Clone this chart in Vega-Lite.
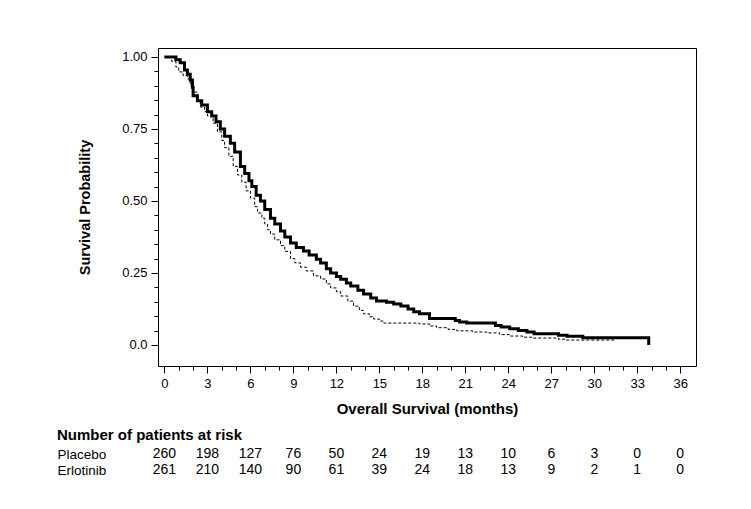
{
  "$schema": "https://vega.github.io/schema/vega-lite/v6.json",
  "padding": {"left": 57, "top": 47, "right": 5, "bottom": 5},
  "background": "white",
  "config": {
    "font": "Liberation Sans",
    "axis": {"grid": false, "domain": false, "tickColor": "black", "labelColor": "black", "titleColor": "black", "labelFont": "Liberation Sans", "titleFont": "Liberation Sans"},
    "concat": {"spacing": 11}
  },
  "datasets": {
    "erlotinib": [
      {"t": 0, "s": 1}, {"t": 0.6, "s": 1}, {"t": 0.8, "s": 0.99}, {"t": 1.1, "s": 0.98}, {"t": 1.4, "s": 0.955},
      {"t": 1.6, "s": 0.94}, {"t": 1.8, "s": 0.92}, {"t": 1.95, "s": 0.895}, {"t": 2.0, "s": 0.865}, {"t": 2.3, "s": 0.848},
      {"t": 2.6, "s": 0.833}, {"t": 3.0, "s": 0.81}, {"t": 3.3, "s": 0.795}, {"t": 3.6, "s": 0.775}, {"t": 3.9, "s": 0.75},
      {"t": 4.2, "s": 0.725}, {"t": 4.6, "s": 0.7}, {"t": 4.9, "s": 0.67}, {"t": 5.3, "s": 0.62}, {"t": 5.6, "s": 0.595},
      {"t": 5.9, "s": 0.57}, {"t": 6.1, "s": 0.55}, {"t": 6.4, "s": 0.52}, {"t": 6.7, "s": 0.5}, {"t": 7.0, "s": 0.47},
      {"t": 7.4, "s": 0.44}, {"t": 7.7, "s": 0.42}, {"t": 8.1, "s": 0.396}, {"t": 8.4, "s": 0.375}, {"t": 8.8, "s": 0.354},
      {"t": 9.2, "s": 0.338}, {"t": 9.7, "s": 0.326}, {"t": 10.1, "s": 0.312}, {"t": 10.6, "s": 0.298}, {"t": 10.9, "s": 0.285},
      {"t": 11.3, "s": 0.265}, {"t": 11.6, "s": 0.25}, {"t": 12.0, "s": 0.238}, {"t": 12.3, "s": 0.228}, {"t": 12.7, "s": 0.215},
      {"t": 13.0, "s": 0.205}, {"t": 13.5, "s": 0.19}, {"t": 13.9, "s": 0.177}, {"t": 14.4, "s": 0.163}, {"t": 14.8, "s": 0.153},
      {"t": 15.5, "s": 0.148}, {"t": 16.0, "s": 0.142}, {"t": 16.5, "s": 0.135}, {"t": 17.0, "s": 0.125}, {"t": 17.4, "s": 0.115},
      {"t": 17.8, "s": 0.108}, {"t": 18.5, "s": 0.092}, {"t": 20.3, "s": 0.085}, {"t": 20.6, "s": 0.08}, {"t": 21.1, "s": 0.076},
      {"t": 23.1, "s": 0.068}, {"t": 23.5, "s": 0.062}, {"t": 24.1, "s": 0.056}, {"t": 24.7, "s": 0.05}, {"t": 25.3, "s": 0.045},
      {"t": 25.8, "s": 0.039}, {"t": 27.5, "s": 0.034}, {"t": 28.1, "s": 0.03}, {"t": 29.2, "s": 0.025}, {"t": 33.8, "s": 0.0}
    ],
    "placebo": [
      {"t": 0, "s": 1}, {"t": 0.4, "s": 1}, {"t": 0.5, "s": 0.985}, {"t": 0.8, "s": 0.965}, {"t": 1.0, "s": 0.948},
      {"t": 1.3, "s": 0.935}, {"t": 1.6, "s": 0.924}, {"t": 1.8, "s": 0.9}, {"t": 2.0, "s": 0.878}, {"t": 2.3, "s": 0.85},
      {"t": 2.5, "s": 0.826}, {"t": 2.8, "s": 0.81}, {"t": 3.0, "s": 0.795}, {"t": 3.4, "s": 0.77}, {"t": 3.7, "s": 0.74},
      {"t": 4.0, "s": 0.71}, {"t": 4.2, "s": 0.685}, {"t": 4.5, "s": 0.655}, {"t": 4.8, "s": 0.62}, {"t": 5.1, "s": 0.59},
      {"t": 5.4, "s": 0.565}, {"t": 5.7, "s": 0.535}, {"t": 6.0, "s": 0.51}, {"t": 6.3, "s": 0.48}, {"t": 6.5, "s": 0.458},
      {"t": 6.8, "s": 0.44}, {"t": 7.0, "s": 0.42}, {"t": 7.2, "s": 0.4}, {"t": 7.4, "s": 0.385}, {"t": 7.7, "s": 0.365},
      {"t": 8.1, "s": 0.345}, {"t": 8.4, "s": 0.325}, {"t": 8.8, "s": 0.3}, {"t": 9.1, "s": 0.285}, {"t": 9.5, "s": 0.27},
      {"t": 9.9, "s": 0.257}, {"t": 10.4, "s": 0.24}, {"t": 10.9, "s": 0.229}, {"t": 11.3, "s": 0.212}, {"t": 11.6, "s": 0.198},
      {"t": 12.0, "s": 0.185}, {"t": 12.3, "s": 0.17}, {"t": 12.8, "s": 0.152}, {"t": 13.2, "s": 0.135}, {"t": 13.6, "s": 0.12},
      {"t": 13.9, "s": 0.108}, {"t": 14.3, "s": 0.098}, {"t": 14.6, "s": 0.09}, {"t": 15.0, "s": 0.083}, {"t": 15.3, "s": 0.076},
      {"t": 17.8, "s": 0.073}, {"t": 18.5, "s": 0.066}, {"t": 19.0, "s": 0.06}, {"t": 19.8, "s": 0.054}, {"t": 20.4, "s": 0.049},
      {"t": 21.5, "s": 0.045}, {"t": 22.5, "s": 0.042}, {"t": 23.4, "s": 0.036}, {"t": 24.1, "s": 0.031}, {"t": 25.0, "s": 0.027},
      {"t": 25.7, "s": 0.024}, {"t": 27.5, "s": 0.02}, {"t": 28.0, "s": 0.017}, {"t": 31.5, "s": 0.017}
    ],
    "risk": [
      {"group": "Placebo", "t": 0, "n": 260}, {"group": "Placebo", "t": 3, "n": 198}, {"group": "Placebo", "t": 6, "n": 127},
      {"group": "Placebo", "t": 9, "n": 76}, {"group": "Placebo", "t": 12, "n": 50}, {"group": "Placebo", "t": 15, "n": 24},
      {"group": "Placebo", "t": 18, "n": 19}, {"group": "Placebo", "t": 21, "n": 13}, {"group": "Placebo", "t": 24, "n": 10},
      {"group": "Placebo", "t": 27, "n": 6}, {"group": "Placebo", "t": 30, "n": 3}, {"group": "Placebo", "t": 33, "n": 0},
      {"group": "Placebo", "t": 36, "n": 0},
      {"group": "Erlotinib", "t": 0, "n": 261}, {"group": "Erlotinib", "t": 3, "n": 210}, {"group": "Erlotinib", "t": 6, "n": 140},
      {"group": "Erlotinib", "t": 9, "n": 90}, {"group": "Erlotinib", "t": 12, "n": 61}, {"group": "Erlotinib", "t": 15, "n": 39},
      {"group": "Erlotinib", "t": 18, "n": 24}, {"group": "Erlotinib", "t": 21, "n": 18}, {"group": "Erlotinib", "t": 24, "n": 13},
      {"group": "Erlotinib", "t": 27, "n": 9}, {"group": "Erlotinib", "t": 30, "n": 2}, {"group": "Erlotinib", "t": 33, "n": 1},
      {"group": "Erlotinib", "t": 36, "n": 0}
    ]
  },
  "vconcat": [
    {
      "width": 538,
      "height": 318,
      "view": {"stroke": "black", "strokeWidth": 1},
      "layer": [
        {
          "data": {"name": "erlotinib"},
          "mark": {"type": "line", "interpolate": "step-after", "color": "black", "strokeWidth": 3},
          "encoding": {
            "x": {"field": "t", "type": "quantitative",
              "scale": {"domain": [-0.45, 37.1], "nice": false, "zero": false},
              "axis": {"orient": "bottom", "values": [0, 3, 6, 9, 12, 15, 18, 21, 24, 27, 30, 33, 36], "tickSize": 7,
                "labelFontSize": 13, "labelPadding": 4, "title": "Overall Survival (months)", "titleFontSize": 15,
                "titleFontWeight": "bold", "titlePadding": 11}},
            "y": {"field": "s", "type": "quantitative",
              "scale": {"domain": [-0.073, 1.031], "nice": false, "zero": false},
              "axis": {"orient": "left", "values": [0, 0.25, 0.5, 0.75, 1], "tickSize": 7, "labelFontSize": 13, "labelPadding": 4,
                "labelExpr": "datum.value == 0 ? '0.0' : format(datum.value, '.2f')",
                "title": "Survival Probability", "titleFontSize": 14.5, "titleFontWeight": "bold", "titlePadding": 29}}
          }
        },
        {
          "data": {"name": "placebo"},
          "mark": {"type": "line", "interpolate": "step-after", "color": "black", "strokeWidth": 1, "strokeDash": [3, 2]},
          "encoding": {
            "x": {"field": "t", "type": "quantitative",
              "axis": {"orient": "bottom", "values": [0,1,2,3,4,5,6,7,8,9,10,11,12,13,14,15,16,17,18,19,20,21,22,23,24,25,26,27,28,29,30,31,32,33,34,35,36],
                "tickSize": 4, "labels": false, "title": null}},
            "y": {"field": "s", "type": "quantitative",
              "axis": {"orient": "left", "values": [0,0.05,0.1,0.15,0.2,0.25,0.3,0.35,0.4,0.45,0.5,0.55,0.6,0.65,0.7,0.75,0.8,0.85,0.9,0.95,1],
                "tickSize": 4, "labels": false, "title": null}}
          }
        }
      ],
      "resolve": {"axis": {"x": "independent", "y": "independent"}}
    },
    {
      "width": 538,
      "height": {"step": 16},
      "view": {"stroke": null},
      "title": {"text": "Number of patients at risk", "anchor": "start", "frame": "bounds", "fontSize": 15, "fontWeight": "bold", "color": "black", "offset": 3, "font": "Liberation Sans"},
      "data": {"name": "risk"},
      "mark": {"type": "text", "fontSize": 14, "color": "black", "align": "center", "baseline": "middle"},
      "encoding": {
        "x": {"field": "t", "type": "quantitative", "scale": {"domain": [-0.45, 37.1], "nice": false, "zero": false}, "axis": null},
        "y": {"field": "group", "type": "nominal", "scale": {"type": "point", "domain": ["Placebo", "Erlotinib"]},
          "axis": {"orient": "left", "domain": false, "ticks": false, "labelAlign": "left", "labelPadding": 101, "labelFontSize": 13.5, "title": null}},
        "text": {"field": "n", "type": "quantitative"}
      }
    }
  ]
}
